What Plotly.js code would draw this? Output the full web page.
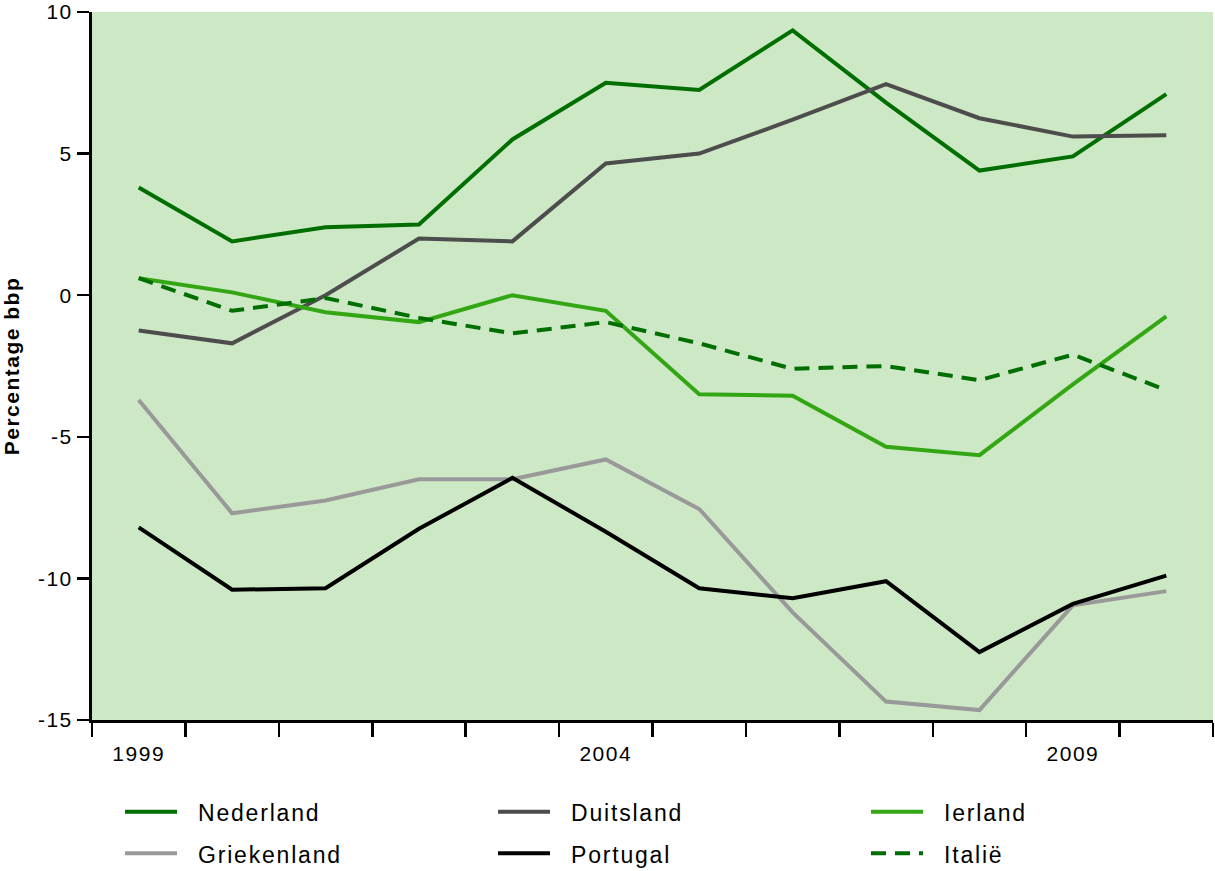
<!DOCTYPE html>
<html>
<head>
<meta charset="utf-8">
<script src="https://cdn.plot.ly/plotly-3.0.1.min.js"></script>
<style>
html, body { margin: 0; padding: 0; background: #ffffff; }
#chart { width: 1215px; height: 871px; }
#chart text.legendtext { letter-spacing: 1.8px; font-size: 23px !important; transform: translate(16px, -2px); }
#chart .xtick text, #chart .x2tick text, #chart .ytick text { letter-spacing: 1.5px; }
#chart .ytitle { letter-spacing: 1.5px; }
</style>
</head>
<body>
<div id="chart"></div>
<script>
const years = [1999, 2000, 2001, 2002, 2003, 2004, 2005, 2006, 2007, 2008, 2009, 2010];
const nederland   = [3.8, 1.9, 2.4, 2.5, 5.5, 7.5, 7.25, 9.35, 6.8, 4.4, 4.9, 7.1];
const duitsland   = [-1.25, -1.7, 0.0, 2.0, 1.9, 4.65, 5.0, 6.2, 7.45, 6.25, 5.6, 5.65];
const ierland     = [0.6, 0.1, -0.6, -0.95, 0.0, -0.55, -3.5, -3.55, -5.35, -5.65, -3.15, -0.75];
const griekenland = [-3.7, -7.7, -7.25, -6.5, -6.5, -5.8, -7.55, -11.2, -14.35, -14.65, -10.95, -10.45];
const portugal    = [-8.2, -10.4, -10.35, -8.25, -6.45, -8.35, -10.35, -10.7, -10.1, -12.6, -10.9, -9.9];
const italie      = [0.6, -0.55, -0.1, -0.8, -1.35, -0.95, -1.7, -2.6, -2.5, -3.0, -2.1, -3.35];
const seriesNames = ["Nederland", "Duitsland", "Ierland", "Griekenland", "Portugal", "Italië"];
const labelYears = [1999, 2004, 2009];
const yTicks = [-15, -10, -5, 0, 5, 10];

const colors = ["#006e00", "#4d4d4d", "#33a614", "#999999", "#000000", "#006e00"];
const values = [nederland, duitsland, ierland, griekenland, portugal, italie];

const traces = values.map((v, i) => ({
  type: "scatter",
  mode: "lines",
  x: years,
  y: v,
  name: seriesNames[i],
  line: { color: colors[i], width: 4, dash: i === 5 ? "15px,9px" : "solid" },
  hoverinfo: "x+y+name"
}));

// invisible helper trace carrying year labels on overlay axis
traces.push({
  type: "scatter", mode: "lines", x: years, y: nederland, xaxis: "x2",
  showlegend: false, hoverinfo: "skip", line: { color: "rgba(0,0,0,0)", width: 0 }
});

const boundaries = years.map(y => y - 0.5).concat([years[years.length - 1] + 0.5]);
const xRange = [years[0] - 0.5, years[years.length - 1] + 0.5];

const fam = "Liberation Sans, Arial, sans-serif";

const layout = {
  width: 1215,
  height: 871,
  margin: { l: 92, r: 2, t: 12, b: 151, autoexpand: false },
  paper_bgcolor: "#ffffff",
  plot_bgcolor: "#cde8c5",
  font: { family: fam, size: 21, color: "#000000" },
  showlegend: true,
  xaxis: {
    range: xRange,
    tickmode: "array",
    tickvals: boundaries,
    ticktext: boundaries.map(() => ""),
    ticks: "outside",
    ticklen: 14,
    tickwidth: 2.5,
    tickcolor: "#000000",
    showline: true,
    linecolor: "#000000",
    linewidth: 3,
    showgrid: false,
    zeroline: false
  },
  xaxis2: {
    overlaying: "x",
    matches: "x",
    side: "bottom",
    range: xRange,
    tickmode: "array",
    tickvals: labelYears,
    ticktext: labelYears.map(String),
    ticks: "outside",
    ticklen: 15,
    tickcolor: "rgba(0,0,0,0)",
    showline: false,
    showgrid: false,
    zeroline: false,
    ticklabeloverflow: "allow",
    tickfont: { family: fam, size: 21, color: "#000000" }
  },
  yaxis: {
    range: [-15, 10],
    tickmode: "array",
    tickvals: yTicks,
    ticktext: yTicks.map(String),
    ticks: "outside",
    ticklen: 12,
    tickwidth: 2.5,
    tickcolor: "#000000",
    showline: true,
    linecolor: "#000000",
    linewidth: 3,
    showgrid: false,
    zeroline: false,
    ticklabeloverflow: "allow",
    tickfont: { family: fam, size: 21, color: "#000000" },
    title: {
      text: "Percentage bbp",
      font: { family: fam, size: 21, color: "#000000", weight: "bold" },
      standoff: 19
    }
  },
  legend: {
    orientation: "h",
    x: 0.025,
    xanchor: "left",
    y: -0.0934,
    yanchor: "top",
    entrywidth: 306,
    entrywidthmode: "pixels",
    itemwidth: 52,
    font: { family: fam, size: 29.5, color: "#000000" },
    bgcolor: "rgba(0,0,0,0)",
    borderwidth: 0
  }
};

Plotly.newPlot("chart", traces, layout, { displayModeBar: false, staticPlot: true });
</script>
</body>
</html>
